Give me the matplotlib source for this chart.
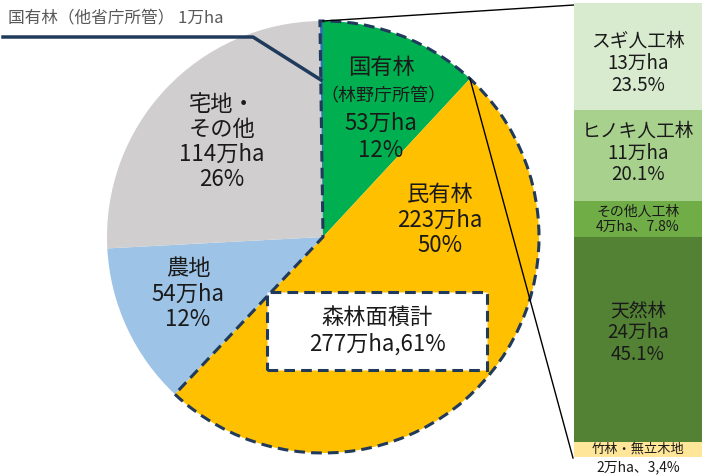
import numpy as np
import matplotlib.pyplot as plt
from matplotlib.patches import Wedge, Rectangle

plt.rcParams['font.family'] = ['Noto Sans CJK JP', 'DejaVu Sans']

# 国土面積の内訳（万ha）
pie_names = ['国有林（林野庁所管）', '民有林', '農地', '宅地・その他', '国有林（他省庁所管）']
pie_values = [53, 223, 54, 114, 1]
pie_colors = ['#00B050', '#FFC000', '#9DC3E6', '#D0CECE', '#2E75B6']

# 民有林の内訳（%）上から
bar_names = ['スギ人工林', 'ヒノキ人工林', 'その他人工林', '天然林', '竹林・無立木地']
bar_area = [13, 11, 4, 24, 2]
bar_pct = [23.5, 20.1, 7.8, 45.1, 3.4]
bar_colors = ['#D8EBCE', '#A9D18E', '#70AD47', '#548235', '#FFE699']

W, H = 702, 476
cx, cy, r = 323, H - 237, 216
navy = '#203A5C'

fig = plt.figure(figsize=(W / 100, H / 100), dpi=100)
ax = fig.add_axes([0, 0, 1, 1])
wedges, _ = ax.pie(pie_values, colors=pie_colors, startangle=90, counterclock=False,
                   center=(cx, cy), radius=r, frame=True,
                   wedgeprops=dict(linewidth=0))
ax.set_xlim(0, W)
ax.set_ylim(0, H)
ax.set_aspect('equal')
ax.axis('off')

# 森林部分を囲む破線
total = sum(pie_values)
a_top = 90 + 360 * pie_values[4] / total
a_end = 90 - 360 * (pie_values[0] + pie_values[1]) / total
ax.add_patch(Wedge((cx, cy), r, a_end, a_top, fill=False, edgecolor=navy,
                   linewidth=2.2, linestyle=(0, (3.5, 2))))

# 民有林から棒グラフへの線
a_g = np.radians(90 - 360 * pie_values[0] / total)
ax.plot([cx, 574], [cy + r, H - 5], color='black', lw=1)
ax.plot([cx + r * np.cos(a_g), 573], [cy + r * np.sin(a_g), H - 458], color='black', lw=1)

# 他省庁所管の引き出し線
ax.plot([3, 253, cx - 2], [H - 37, H - 37, H - 80], color=navy, lw=2.5)
ax.text(8, H - 18, '国有林（他省庁所管） 1万ha', fontsize=12, color='#595959', va='center')

tc = '#1A1A1A'
ax.text(381, H - 68, '国有林', fontsize=16, color=tc, ha='center', va='center')
ax.text(383, H - 96, '（林野庁所管）', fontsize=13, color=tc, ha='center', va='center')
ax.text(381, H - 137, '53万ha\n12%', fontsize=16, color=tc, ha='center',
        va='center', linespacing=1.2)
ax.text(440, H - 220, '民有林\n223万ha\n50%', fontsize=16, color=tc, ha='center',
        va='center', linespacing=1.15)
ax.text(222, H - 142, '宅地・\nその他\n114万ha\n26%', fontsize=16, color=tc, ha='center',
        va='center', linespacing=1.12)
ax.text(188, H - 294, '農地\n54万ha\n12%', fontsize=16, color=tc, ha='center',
        va='center', linespacing=1.15)

ax.add_patch(Rectangle((267, H - 370), 220, 78, facecolor='white', edgecolor=navy,
                       linewidth=2.2, linestyle=(0, (3.5, 2))))
ax.text(377, H - 331, '森林面積計\n277万ha,61%', fontsize=16, color=tc, ha='center',
        va='center', linespacing=1.2)

# 民有林の内訳の積み上げ棒
bx = fig.add_axes([574 / W, 19 / H, 128 / W, 454 / H])
bottom = sum(bar_pct)
for i, (name, area, pct, col) in enumerate(zip(bar_names, bar_area, bar_pct, bar_colors)):
    bottom -= pct
    bx.bar(0, pct, bottom=bottom, width=1, color=col, linewidth=0)
    mid = bottom + pct / 2
    if pct > 10:
        # 一番上の段は少し下げ、天然林は少し上げる
        shift = -1.5 if i == 0 else (1.5 if pct > 40 else 0.5)
        bx.text(0, mid + shift, f'{name}\n{area}万ha\n{pct}%', fontsize=13.5, color=tc,
                ha='center', va='center', linespacing=1.05)
    elif pct > 5:
        bx.text(0, mid, f'{name}\n{area}万ha、{pct}%', fontsize=10, color=tc,
                ha='center', va='center', linespacing=1.1)
    else:
        bx.text(0, mid, name, fontsize=9.5, color=tc, ha='center', va='center')
        bx.text(0, bottom - 2.2, f'{area}万ha、{str(pct).replace(".", ",")}%', fontsize=10,
                color=tc, ha='center', va='center', clip_on=False)
bx.set_xlim(-0.5, 0.5)
bx.set_ylim(0, sum(bar_pct))
bx.axis('off')

fig.savefig('out.png', dpi=100)
